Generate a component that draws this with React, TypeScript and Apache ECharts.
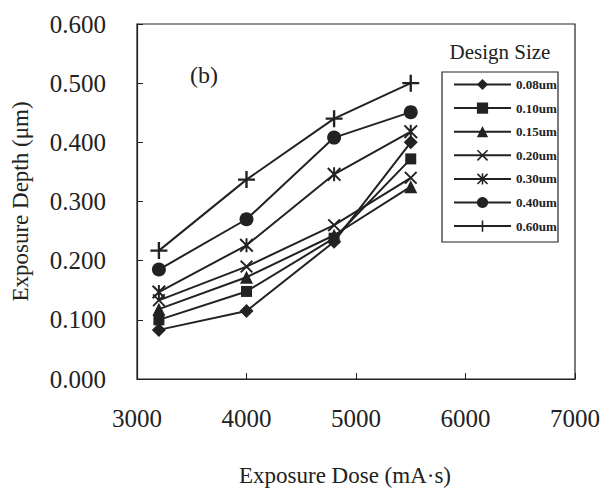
import React, { useEffect, useRef } from "react";
import * as echarts from "echarts";

const doses = [3200, 4000, 4800, 5500];
const seriesNames = ["0.08um", "0.10um", "0.15um", "0.20um", "0.30um", "0.40um", "0.60um"];
const d008 = [0.083, 0.115, 0.232, 0.4];
const d010 = [0.1, 0.148, 0.238, 0.372];
const d015 = [0.118, 0.172, 0.243, 0.325];
const d020 = [0.133, 0.19, 0.26, 0.34];
const d030 = [0.147, 0.226, 0.346, 0.418];
const d040 = [0.185, 0.27, 0.408, 0.451];
const d060 = [0.217, 0.337, 0.44, 0.5];
const xTicks = [3000, 4000, 5000, 6000, 7000];
const yTicks = [0, 0.1, 0.2, 0.3, 0.4, 0.5, 0.6];

const PLUS = "path://M4.3,0H5.7V4.3H10V5.7H5.7V10H4.3V5.7H0V4.3H4.3Z";
const XSYM = "path://M1,0L5,4L9,0L10,1L6,5L10,9L9,10L5,6L1,10L0,9L4,5L0,1Z";
const STAR = "path://M1,0L5,4L9,0L10,1L6,5L10,9L9,10L5,6L1,10L0,9L4,5L0,1Z M4.3,0H5.7V10H4.3Z";

const symbols = ["diamond", "rect", "triangle", XSYM, STAR, "circle", PLUS];
const sizes = [14, 11, 13, 13, 14, 14, 17];
const values = [d008, d010, d015, d020, d030, d040, d060];

const INK = "#222";
const FONT = "'Liberation Serif', 'Times New Roman', serif";

export default function App() {
  const ref = useRef<HTMLDivElement>(null);
  useEffect(() => {
    const chart = echarts.init(ref.current!, null, { renderer: "svg" });
    chart.setOption({
      animation: false,
      backgroundColor: "#ffffff",
      textStyle: { fontFamily: FONT },
      grid: {
        left: 137,
        right: 30,
        top: 24,
        bottom: 110,
        containLabel: false,
        outerBoundsMode: "none",
      },
      xAxis: {
        type: "value",
        min: xTicks[0],
        max: xTicks[xTicks.length - 1],
        interval: 1000,
        name: "Exposure Dose (mA·s)",
        nameLocation: "middle",
        nameGap: 85,
        nameTextStyle: { fontFamily: FONT, fontSize: 23, color: INK, padding: [0, 22, 0, 0] },
        axisLine: { show: true, onZero: false, lineStyle: { color: INK, width: 1.2 } },
        axisTick: { show: true, inside: true, length: 6, lineStyle: { color: INK } },
        axisLabel: {
          margin: 27,
          fontFamily: FONT,
          fontSize: 25,
          color: INK,
          formatter: (v: number) => String(v),
        },
        splitLine: { show: false },
      },
      yAxis: {
        type: "value",
        min: yTicks[0],
        max: yTicks[yTicks.length - 1],
        interval: 0.1,
        name: "Exposure Depth (μm)",
        nameLocation: "middle",
        nameGap: 105,
        nameTextStyle: { fontFamily: FONT, fontSize: 23, color: INK },
        axisLine: { show: true, onZero: false, lineStyle: { color: INK, width: 1.2 } },
        axisTick: { show: true, inside: true, length: 6, lineStyle: { color: INK } },
        axisLabel: {
          margin: 31,
          fontFamily: FONT,
          fontSize: 25,
          color: INK,
          formatter: (v: number) => v.toFixed(3),
        },
        splitLine: { show: false },
      },
      legend: {
        orient: "vertical",
        left: 453,
        top: 78,
        padding: 0,
        itemWidth: 57,
        itemHeight: 14,
        itemGap: 10.6,
        textStyle: { fontFamily: FONT, fontSize: 13, fontWeight: "bold", color: INK },
        data: seriesNames,
      },
      graphic: [
        {
          type: "rect",
          shape: { x: 442, y: 72, width: 116, height: 170 },
          style: { fill: "none", stroke: INK, lineWidth: 1.2 },
          z: 10,
        },
        {
          type: "rect",
          shape: { x: 137, y: 24, width: 438, height: 355 },
          style: { fill: "none", stroke: INK, lineWidth: 1.2 },
          z: 10,
        },
        {
          type: "text",
          x: 500,
          y: 52,
          style: {
            text: "Design Size",
            fontFamily: FONT,
            fontSize: 21,
            fill: INK,
            align: "center",
            verticalAlign: "middle",
          },
        },
        {
          type: "text",
          x: 204,
          y: 75,
          style: {
            text: "(b)",
            fontFamily: FONT,
            fontSize: 24,
            fill: INK,
            align: "center",
            verticalAlign: "middle",
          },
        },
      ],
      series: seriesNames.map((name, i) => ({
        name,
        type: "line",
        data: doses.map((x, j) => [x, values[i][j]]),
        symbol: symbols[i],
        symbolSize: sizes[i],
        symbolKeepAspect: true,
        showSymbol: true,
        lineStyle: { color: INK, width: 2 },
        itemStyle: { color: INK, borderWidth: 0 },
        emphasis: { disabled: true },
      })),
    });
    return () => chart.dispose();
  }, []);
  return (
    <div
      ref={ref}
      style={{ position: "absolute", left: 0, top: 0, width: 605, height: 489 }}
    />
  );
}
